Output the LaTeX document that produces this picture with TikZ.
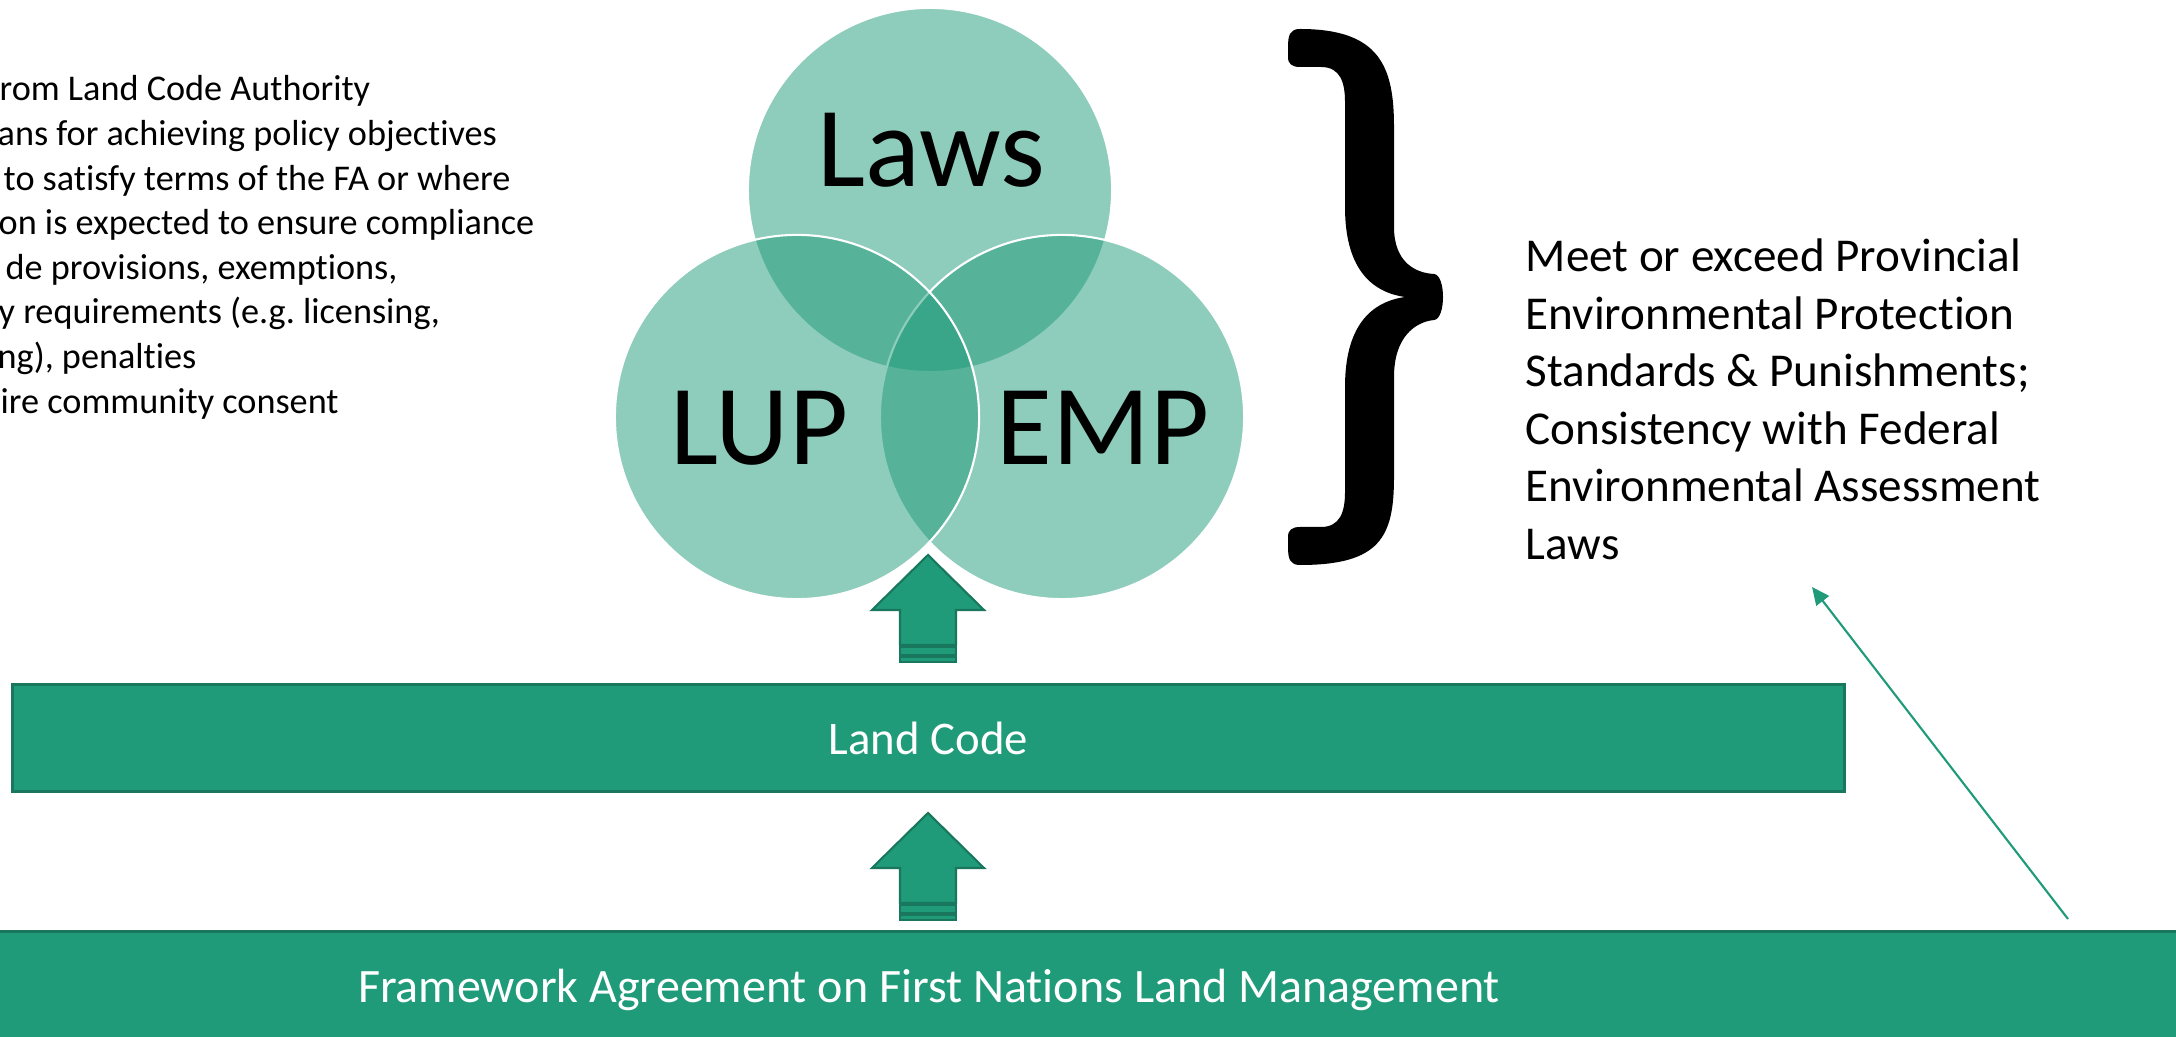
\documentclass[tikz,border=0pt]{standalone}
\usepackage{fontspec}
\setmainfont{Carlito}[Ligatures={NoCommon}]
\usetikzlibrary{arrows.meta}
\definecolor{acc}{HTML}{1F9B7A}
\definecolor{accd}{HTML}{18775C}
\frenchspacing
\tikzset{
  venn/.style={circle, minimum size=3.64cm, inner sep=0pt, fill=acc, fill opacity=0.5, draw=white, line width=0.6pt},
  bar/.style={rectangle, fill=acc, draw=accd, line width=0.85pt, inner sep=0pt},
  bigtxt/.style={font=\fontsize{32.5}{39}\selectfont, anchor=base, inner sep=0pt},
  bartxt/.style={font=\fontsize{13.3}{16.2}\selectfont, text=white},
  lefttxt/.style={font=\fontsize{10.3}{12.6}\selectfont, anchor=base west, inner sep=0pt},
  righttxt/.style={font=\fontsize{13.4}{16.4}\selectfont, anchor=base west, inner sep=0pt},
  blockpart/.style={fill=acc, draw=accd, line width=0.6pt},
  upblock/.pic={
    \path[blockpart] (0,0) -- (56,55) -- (28,55) -- (28,90) -- (-28,90) -- (-28,55) -- (-56,55) -- cycle;
    \path[blockpart] (-28,92) rectangle (28,100);
    \path[blockpart] (-28,102) rectangle (28,107);
  }
}
\begin{document}
\begin{tikzpicture}[x=0.01cm,y=-0.01cm]
\useasboundingbox (0,0) rectangle (2176,1037);
\clip (0,0) rectangle (2176,1037);
\fill[white] (0,0) rectangle (2176,1037);

% left text (cropped at the left edge)
\node[lefttxt] (l1) at (-1,101) {rom Land Code Authority};
\node[lefttxt] (l2) at (-3,145.6) {ans for achieving policy objectives};
\node[lefttxt] (l3) at (3,190.2) {to satisfy terms of the FA or where};
\node[lefttxt] (l4) at (-2,234.8) {on is expected to ensure compliance};
\node[lefttxt] (l5) at (5,279.4) {de provisions, exemptions,};
\node[lefttxt] (l6) at (-2,324) {y requirements (e.g. licensing,};
\node[lefttxt] (l7) at (-3,368.6) {ng), penalties};
\node[lefttxt] (l8) at (0,413.2) {ire community consent};

% venn circles
\node[venn] (laws) at (930,190) {};
\node[venn] (emp) at (1062,417) {};
\node[venn] (lup) at (797,417) {};
\node[bigtxt] (lawst) at (931,187) {Laws};
\node[bigtxt] (lupt) at (759,465) {LUP};
\node[bigtxt] (empt) at (1103,465) {EMP};

% brace
\begin{scope}[shift={(0,297)}]
\fill[black] (1300,-268) .. controls (1380,-268) and (1394,-230) .. (1394,-170)
  -- (1394,-70) .. controls (1394,-35) and (1415,-24) .. (1434,-23)
  .. controls (1446,-22) and (1446,22) .. (1434,23)
  .. controls (1415,25) and (1394,40) .. (1394,80)
  -- (1394,180) .. controls (1394,240) and (1380,268) .. (1300,268)
  .. controls (1290,268) and (1288,262) .. (1288,250)
  -- (1288,240) .. controls (1288,233) and (1292,230) .. (1300,230)
  -- (1321,230) .. controls (1340,230) and (1345,215) .. (1345,195)
  -- (1345,90) .. controls (1345,30) and (1370,5) .. (1405,0)
  .. controls (1370,-5) and (1345,-30) .. (1345,-90)
  -- (1345,-195) .. controls (1345,-215) and (1340,-230) .. (1321,-230)
  -- (1300,-230) .. controls (1292,-230) and (1288,-233) .. (1288,-240)
  -- (1288,-250) .. controls (1288,-262) and (1290,-268) .. (1300,-268) -- cycle;
\end{scope}

% right text
\node[righttxt] (r1) at (1525,272) {Meet or exceed Provincial};
\node[righttxt] (r2) at (1525,329.5) {Environmental Protection};
\node[righttxt] (r3) at (1525,387) {Standards \& Punishments;};
\node[righttxt] (r4) at (1525,444.5) {Consistency with Federal};
\node[righttxt] (r5) at (1525,502) {Environmental Assessment};
\node[righttxt] (r6) at (1525,559.5) {Laws};

% block arrows
\pic at (928,555) {upblock};
\pic at (928,813) {upblock};

% bars
\node[bar, bartxt, minimum width=18.30cm, minimum height=1.07cm] (lc) at (928.5,738) {Land Code};
\node[bar, minimum width=22.2cm, minimum height=1.2cm] (fa) at (1088,991.5) {};
\node[font=\fontsize{13.65}{16.5}\selectfont, text=white, anchor=base, inner sep=0pt] (fat) at (929,1002) {Framework Agreement on First Nations Land Management};

% thin arrow
\coordinate (ga) at (2068,919);
\coordinate (gb) at (1812,587);
\draw[acc, line width=0.6pt, -{Triangle[length=5pt,width=4.5pt]}] (ga) -- (gb);
\end{tikzpicture}
\end{document}
